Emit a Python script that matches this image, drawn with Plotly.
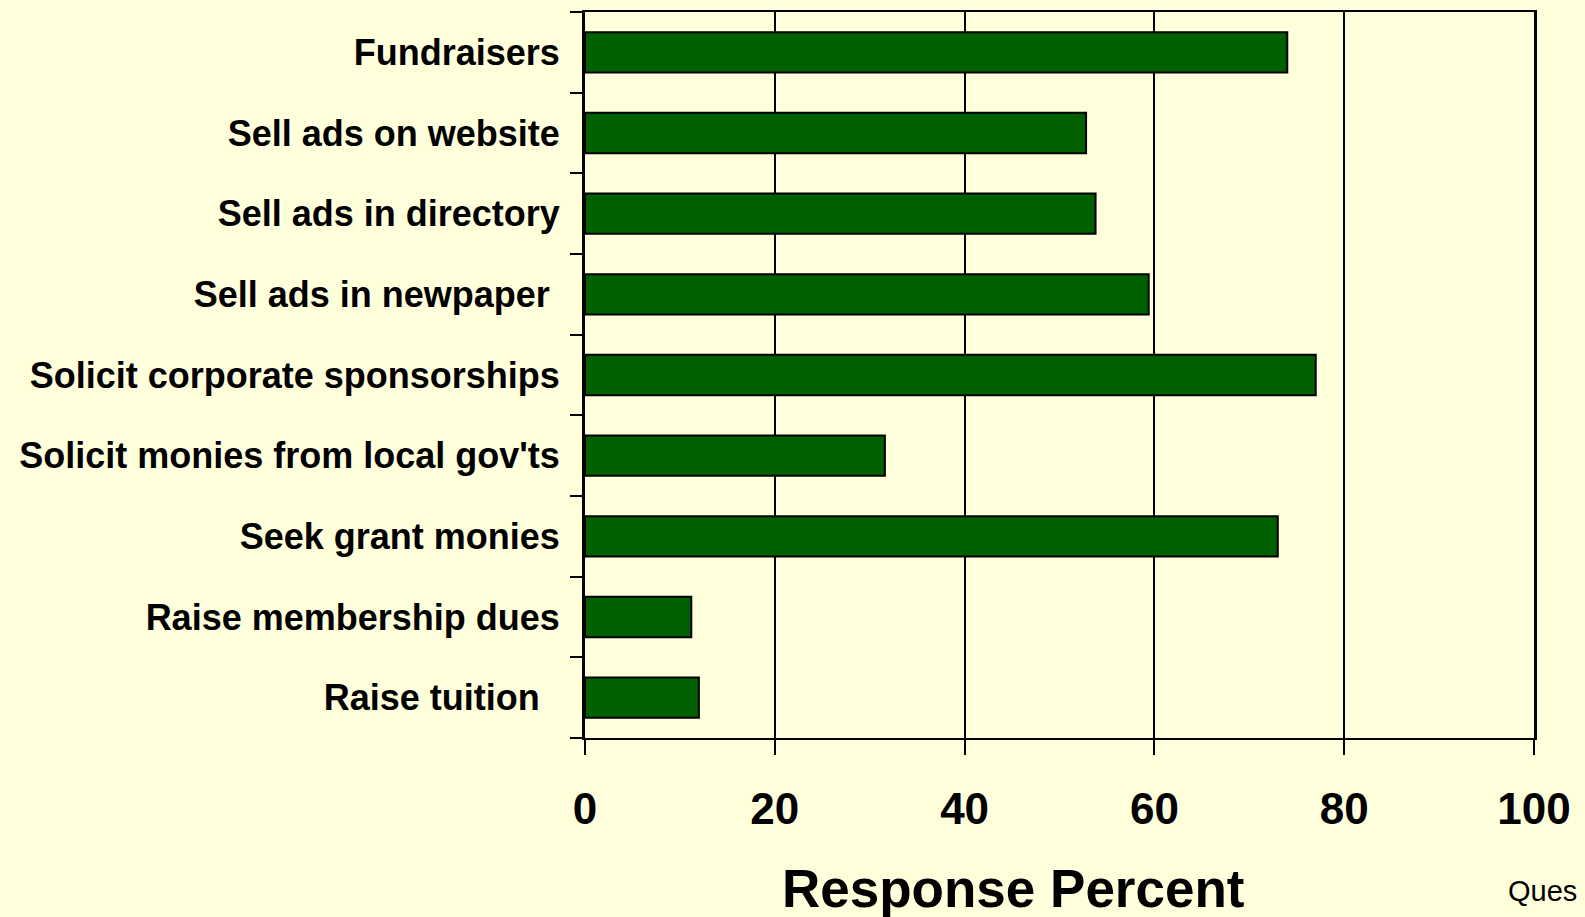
import plotly.graph_objects as go

categories = [
    "Fundraisers",
    "Sell ads on website",
    "Sell ads in directory",
    "Sell ads in newpaper\u00a0",
    "Solicit corporate sponsorships",
    "Solicit monies from local gov'ts",
    "Seek grant monies",
    "Raise membership dues",
    "Raise tuition\u00a0\u00a0",
]
values = [74.0, 52.8, 53.8, 59.4, 77.0, 31.6, 73.0, 11.2, 12.0]
x_ticks = [0, 20, 40, 60, 80, 100]

BG = "#FFFFDC"
FONT = "Liberation Sans, Arial, sans-serif"

fig = go.Figure(
    go.Bar(
        y=categories,
        x=values,
        orientation="h",
        marker=dict(color="#006000", line=dict(color="#000000", width=2)),
        width=0.5,
    )
)

fig.update_layout(
    width=1585,
    height=917,
    margin=dict(l=585, r=51, t=10, b=179),
    paper_bgcolor=BG,
    plot_bgcolor=BG,
    showlegend=False,
    font=dict(family=FONT, color="#000000"),
)

fig.update_xaxes(
    range=[0, 100],
    tickvals=x_ticks,
    ticktext=[f"<b>{v}</b>" for v in x_ticks],
    tickfont=dict(size=44, family=FONT, color="#000000"),
    ticks="outside",
    ticklen=15,
    tickwidth=2,
    tickcolor="#000000",
    ticklabelstandoff=16,
    showgrid=True,
    gridcolor="#000000",
    gridwidth=2,
    showline=True,
    linecolor="#000000",
    linewidth=2,
    mirror=True,
    zeroline=False,
)

fig.update_yaxes(
    categoryorder="array",
    categoryarray=categories,
    autorange="reversed",
    tickson="boundaries",
    ticks="outside",
    ticklen=12,
    tickwidth=2,
    tickcolor="#000000",
    tickvals=categories,
    ticktext=[f"<b>{c}</b>" for c in categories],
    tickfont=dict(size=36, family=FONT, color="#000000"),
    ticklabelstandoff=15,
    showgrid=False,
    showline=True,
    linecolor="#000000",
    linewidth=3,
    mirror=True,
)

fig.add_annotation(
    text="<b>Response Percent</b>",
    xref="paper", yref="paper",
    x=(1013 - 585) / 949, y=-(889 - 738) / 728,
    xanchor="center", yanchor="middle",
    showarrow=False,
    font=dict(size=53, family=FONT, color="#000000"),
)

fig.add_annotation(
    text="Ques",
    xref="paper", yref="paper",
    x=(1506 - 585) / 949, y=-(891 - 738) / 728,
    xanchor="left", yanchor="middle",
    showarrow=False,
    font=dict(size=29, family=FONT, color="#000000"),
)

fig.write_html(
    "out.html",
    config={"displayModeBar": False},
    post_script="document.body.style.margin='0';document.body.style.overflow='hidden';",
)
